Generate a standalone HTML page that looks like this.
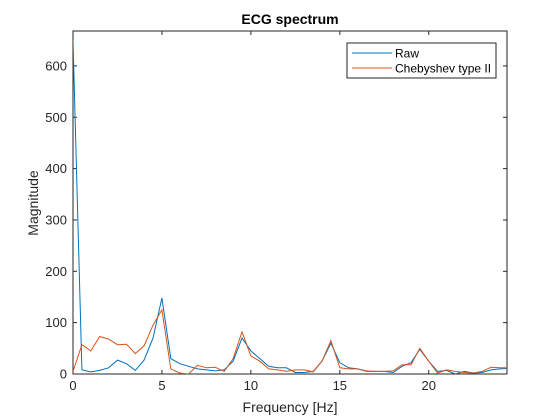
<!DOCTYPE html>
<html><head><meta charset="utf-8"><style>body{margin:0;background:#fff}svg{display:block;font-family:"Liberation Sans",sans-serif}</style></head>
<body>
<svg id="chart" width="560" height="420" xmlns="http://www.w3.org/2000/svg">
<defs><clipPath id="clip"><rect x="73" y="31" width="434" height="343"/></clipPath></defs>
<rect width="560" height="420" fill="#fff"/>
<g id="plot"></g>
</svg>
<script>
const freqStep = 0.5;
const rawValues = [650,8,4,7,12,27,20,7,27,70,148,30,20,15,10,8,6,8,25,70,45,30,15,12,12,3,3,5,25,60,22,12,10,5,5,5,3,15,22,48,25,5,7,0,5,2,3,8,10,11];
const chebyValues = [5,57,45,73,68,57,58,40,55,95,125,10,2,0,17,12,13,5,30,82,35,25,10,8,5,8,8,4,25,65,12,10,10,6,5,5,6,18,18,50,25,2,8,5,3,2,5,13,12,12];
const xTicks = [0,5,10,15,20];
const yTicks = [0,100,200,300,400,500,600];
const X0=73,X1=507,Y0=374,Y1=31,XMAX=24.4,YMAX=668;
const xs=v=>X0+(X1-X0)*v/XMAX, ys=v=>Y0-(Y0-Y1)*v/YMAX;
const NS="http://www.w3.org/2000/svg", g=document.getElementById('plot');
function mk(t,a,txt){const e=document.createElementNS(NS,t);for(const k in a)e.setAttribute(k,a[k]);if(txt!=null)e.textContent=txt;g.appendChild(e);return e;}
let e=mk('rect',{x:X0,y:Y1,width:X1-X0,height:Y0-Y1,fill:'#fff',stroke:'#262626','stroke-width':1});


xTicks.forEach(v=>{const x=xs(v);
 mk('line',{x1:x,x2:x,y1:Y0,y2:Y0-4,stroke:'#262626'});mk('line',{x1:x,x2:x,y1:Y1,y2:Y1+4,stroke:'#262626'});
 e=mk('text',{x:x,y:Y0+16,'text-anchor':'middle','font-size':13,fill:'#262626'},v);
 
 });
yTicks.forEach(v=>{const y=ys(v);
 mk('line',{x1:X0,x2:X0+4,y1:y,y2:y,stroke:'#262626'});mk('line',{x1:X1,x2:X1-4,y1:y,y2:y,stroke:'#262626'});
 e=mk('text',{x:X0-6,y:y+4.5,'text-anchor':'end','font-size':13,fill:'#262626'},v);
 
 });
function series(vals,col,name){const p=vals.map((v,i)=>xs(i*freqStep).toFixed(1)+','+ys(v).toFixed(1)).join(' ');
 const l=mk('polyline',{points:p,fill:'none',stroke:col,'stroke-width':1,'clip-path':'url(#clip)'});
 
 }
series(rawValues,'#0072bd','raw-series');
series(chebyValues,'#d95319','chebyshev-series');
e=mk('text',{x:290,y:24,'text-anchor':'middle','font-size':14,'font-weight':'bold',fill:'#000'},'ECG spectrum');


e=mk('text',{x:290,y:412,'text-anchor':'middle','font-size':14,fill:'#262626'},'Frequency [Hz]');


e=mk('text',{x:0,y:0,'text-anchor':'middle','font-size':14,fill:'#262626',transform:'translate(38,203) rotate(-90)'},'Magnitude');


e=mk('rect',{x:347,y:43,width:149,height:35,fill:'#fff',stroke:'#262626'});


mk('line',{x1:352,x2:392,y1:53,y2:53,stroke:'#0072bd'});
e=mk('text',{x:395,y:57.5,'font-size':12,fill:'#000'},'Raw');


mk('line',{x1:352,x2:392,y1:68,y2:68,stroke:'#d95319'});
e=mk('text',{x:395,y:72.5,'font-size':12,fill:'#000'},'Chebyshev type II');


</script>
</body></html>
